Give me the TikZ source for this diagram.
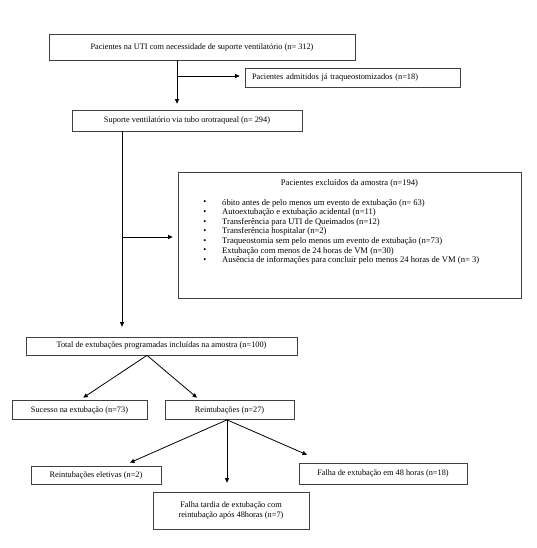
\documentclass[tikz,border=0pt]{standalone}
\usepackage{fontspec}
\setmainfont{Liberation Serif}
\usetikzlibrary{arrows.meta}
\begin{document}
\begin{tikzpicture}[x=1pt,y=-1pt,
  box/.style={draw=black!75, line width=0.7pt, inner sep=0pt, font=\fontsize{8.3}{10}\selectfont, align=center},
  arr/.style={line width=0.8pt, -{Triangle[length=4.5pt,width=4pt]}},
  txt/.style={inner sep=0pt, font=\fontsize{8.6}{9.6}\selectfont, anchor=west},
  bul/.style={inner sep=0pt, font=\fontsize{8.6}{9.6}\selectfont}]
\useasboundingbox[fill=white] (0,0) rectangle (537,548);
% boxes
\node[box, minimum width=306pt, minimum height=26pt] (b1) at (202,47) {Pacientes na UTI com necessidade de suporte ventilatório (n= 312)};
\node[box, minimum width=215pt, minimum height=19pt, text width=201pt, inner xsep=7pt, align=left] (b3) at (352.5,77.5) {Pacientes admitidos já traqueostomizados (n=18)};
\node[box, minimum width=230pt, minimum height=21pt] (b2) at (187,120.5) {Suporte ventilatório via tubo orotraqueal (n= 294)};
\node[box, minimum width=343pt, minimum height=126pt] (ex) at (349.5,235) {};
\node[bul] (ext) at (349.5,183) {Pacientes excluídos da amostra (n=194)};
\foreach \t [count=\i] in {óbito antes de pelo menos um evento de extubação (n= 63),
  Autoextubação e extubação acidental (n=11),
  Transferência para UTI de Queimados (n=12),
  Transferência hospitalar (n=2),
  Traqueostomia sem pelo menos um evento de extubação (n=73),
  Extubação com menos de 24 horas de VM (n=30),
  Ausência de informações para concluir pelo menos 24 horas de VM (n= 3)}{
  \node[bul] (d\i) at (205,{203+9.6*(\i-1)}) {•};
  \node[txt] (l\i) at (222,{203+9.6*(\i-1)}) {\t};
}
\node[box, minimum width=271pt, minimum height=18pt] (b4) at (161.5,346) {Total de extubações programadas incluídas na amostra (n=100)};
\node[box, minimum width=135pt, minimum height=19pt] (b5) at (79.5,410) {Sucesso na extubação (n=73)};
\node[box, minimum width=129pt, minimum height=19pt] (b6) at (229.5,410) {Reintubações (n=27)};
\node[box, minimum width=130pt, minimum height=18pt] (b7) at (96,475) {Reintubações eletivas (n=2)};
\node[box, minimum width=156pt, minimum height=37pt] (b8) at (231,510.5) {Falha tardia de extubação com\\reintubação após 48horas (n=7)};
\node[box, minimum width=168pt, minimum height=21pt] (b9) at (383,473.5) {Falha de extubação em 48 horas (n=18)};
% connectors
\coordinate (j1) at (177,76);
\draw[arr, shorten >=6pt] (j1 |- b1.south) -- (j1 |- b2.north);
\draw[arr, shorten >=5pt] (j1) -- (j1 -| b3.west);
\coordinate (j2) at (122,237);
\draw[arr, shorten >=10pt] (j2 |- b2.south) -- (j2 |- b4.north);
\draw[arr, shorten >=5pt] (j2) -- (j2 -| ex.west);
\coordinate (s4) at ([xshift=-14.5pt]b4.south);
\draw[arr, shorten >=4.5pt] (s4) -- (b5.north);
\draw[arr, shorten >=3.8pt] (s4) -- ([xshift=-29.6pt]b6.north);
\coordinate (s6) at ([xshift=-2.5pt]b6.south);
\draw[arr, shorten >=7.4pt] (s6) -- ([xshift=27.2pt]b7.north);
\draw[arr, shorten >=9pt] (s6) -- (s6 |- b8.north);
\draw[arr, shorten >=19.7pt] (s6) -- ([xshift=-58pt]b9.north);
\end{tikzpicture}
\end{document}
